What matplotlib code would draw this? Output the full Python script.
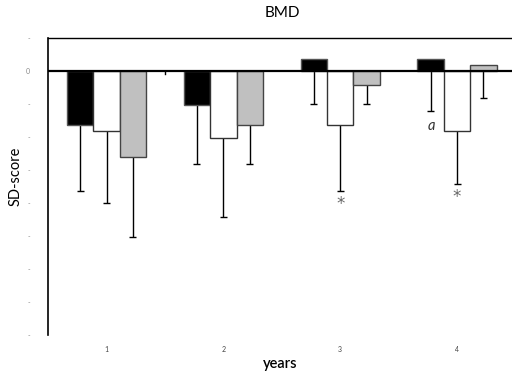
import matplotlib
matplotlib.use("Agg")
import matplotlib.pyplot as plt
import numpy as np

plt.rcParams["font.family"] = ["Lato", "DejaVu Sans"]

years = [1, 2, 3, 4]
# mean SD-scores per group (black, white, grey bars)
black_mean = [-0.82, -0.52, 0.18, 0.18]
white_mean = [-0.91, -1.01, -0.82, -0.91]
grey_mean = [-1.30, -0.82, -0.21, 0.09]
# lower error (SD) drawn below each bar
black_sd = [1.00, 0.89, 0.68, 0.79]
white_sd = [1.09, 1.20, 1.00, 0.80]
grey_sd = [1.22, 0.59, 0.29, 0.50]

yticks = np.arange(-4.0, 0.51, 0.5)
ytick_labels = ["0" if abs(t) < 1e-9 else "-" for t in yticks]

fig = plt.figure(figsize=(5.12, 3.75), dpi=100)
ax = fig.add_axes([0.094, 0.107, 0.906, 0.792])

x = np.array(years, dtype=float)
w = 0.226
series = [
    (x - w, black_mean, black_sd, "black", "#555555"),
    (x, white_mean, white_sd, "white", "#333333"),
    (x + w, grey_mean, grey_sd, "#c0c0c0", "#444444"),
]
for xs, mean, sd, fc, ec in series:
    ax.bar(xs, mean, width=w, color=fc, edgecolor=ec, linewidth=1.0, zorder=2)
    low = np.array(mean) - np.array(sd)
    ax.vlines(xs, low, np.minimum(mean, 0), color="black", lw=1.0, zorder=1)
    ax.hlines(low, xs - 0.03, xs + 0.03, color="black", lw=1.0, zorder=1)

ax.axhline(0, color="black", lw=1.6, zorder=3)
ax.plot([1.5, 1.5], [0, -0.05], color="black", lw=1.0)

# significance marks
ax.text(3, -2.02, "*", ha="center", va="center", fontsize=12,
        color="#666666", family="DejaVu Sans")
ax.text(4, -1.91, "*", ha="center", va="center", fontsize=12,
        color="#666666", family="DejaVu Sans")
ax.text(3.78, -0.83, "a", ha="center", va="center", fontsize=10.5,
        style="italic", color="#333333")

ax.set_xlim(0.5, 4.47)
ax.set_ylim(-4.0, 0.5)
ax.set_xticks(years)
ax.set_xticklabels([str(v) for v in years], fontsize=5, color="#444444")
ax.set_yticks(yticks)
ax.set_yticklabels(ytick_labels, fontsize=5, color="#888888")
ax.tick_params(axis="both", length=0)
ax.tick_params(axis="y", pad=13)
ax.tick_params(axis="x", pad=8)

ax.spines["right"].set_visible(False)
ax.spines["bottom"].set_visible(False)
ax.spines["top"].set_linewidth(1.0)
ax.spines["left"].set_linewidth(1.2)

ax.set_title("BMD", fontsize=11, pad=15, x=0.505)
ax.set_xlabel("years", fontsize=10.5, fontweight="semibold", labelpad=3)
ax.set_ylabel("SD-score", fontsize=10.5)
ax.yaxis.set_label_coords(-0.055, 0.535)

fig.savefig("out.png", dpi=100)
